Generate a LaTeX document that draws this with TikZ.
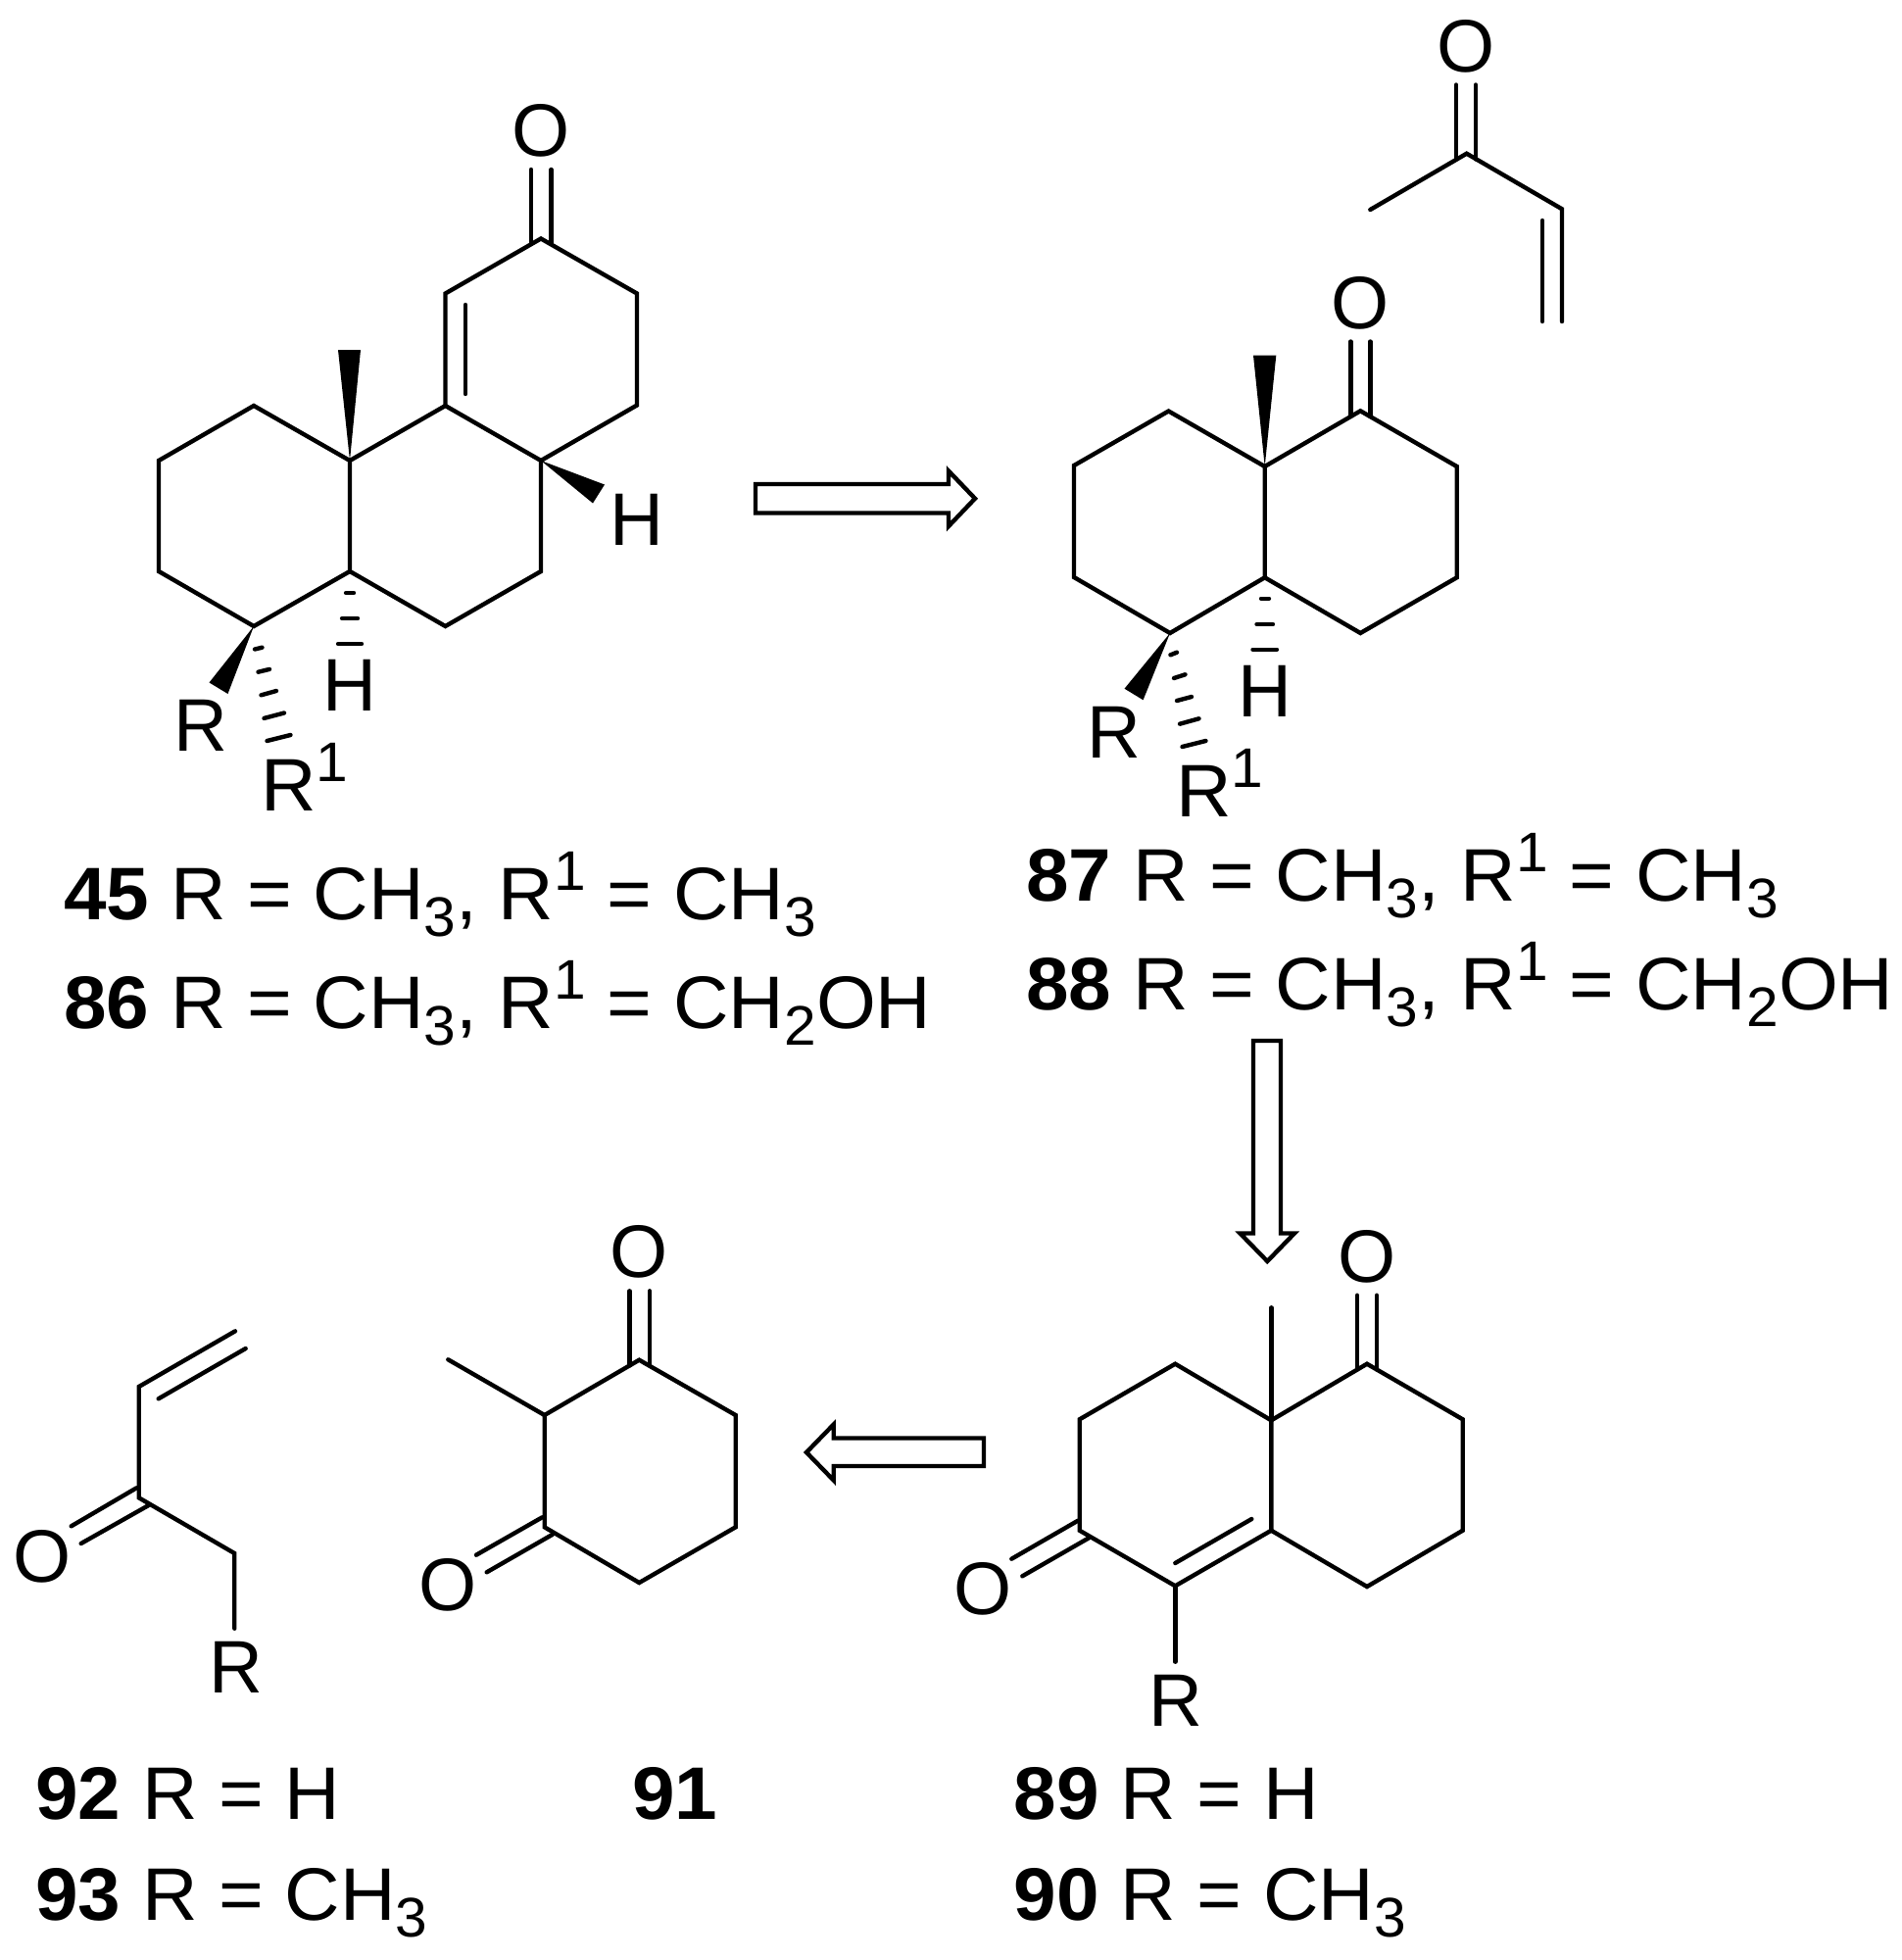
\documentclass[tikz,border=0pt]{standalone}
\usepackage{fontspec}
\setmainfont{Liberation Sans}
\newfontfamily\capfont[FakeStretch=1.03]{Liberation Sans}
\newcommand{\lowsz}{\fontsize{32.4}{36}\selectfont}
\newcommand{\sbs}[1]{\raisebox{-9.8pt}{\lowsz #1}}
\newcommand{\sps}[1]{\raisebox{17pt}{\lowsz #1}}
\tikzset{
	bond/.style={line width=2.5pt,line cap=round,line join=miter},
	hollow/.style={line width=2.5pt,line join=miter,miter limit=6},
	wedge/.style={fill=black,draw=none},
	atom/.style={inner sep=0pt,font=\fontsize{43.25}{50}\selectfont},
	caption/.style={inner sep=0pt,anchor=base west,font=\capfont\fontsize{43.25}{50}\selectfont}
}
\begin{document}
\begin{tikzpicture}[x=0.02cm,y=-0.02cm]
	\useasboundingbox (0,0) rectangle (1940,2000);
	% 45: tetracyclic enone
	\coordinate (a1) at (259,414); \coordinate (a2) at (162,470); \coordinate (a3) at (162,583);
	\coordinate (a4) at (259,639); \coordinate (a5) at (357,583); \coordinate (a6) at (357,470);
	\coordinate (a7) at (454.5,414); \coordinate (a8) at (552,470); \coordinate (a9) at (552,583);
	\coordinate (a10) at (454.5,639); \coordinate (a11) at (454.5,299.5); \coordinate (a12) at (552,243.5);
	\coordinate (a13) at (650,299.5); \coordinate (a14) at (650,413.5);
	\draw[bond] (a1) -- (a2) -- (a3) -- (a4) -- (a5) -- (a6) -- cycle;
	\draw[bond] (a6) -- (a7) -- (a8) -- (a9) -- (a10) -- (a5);
	\draw[bond] (a7) -- (a11) -- (a12) -- (a13) -- (a14) -- (a8);
	\coordinate (a15) at (475,311); \coordinate (a16) at (475,402);
	\draw[bond] (a15) -- (a16);
	\node[atom] (oa) at (552,133.5) {O};
	\coordinate (a17) at (542,173); \coordinate (a18) at (542,249);
	\coordinate (a19) at (562.5,173); \coordinate (a20) at (562.5,249);
	\draw[bond] (a17) -- (a18);
	\draw[bond] (a19) -- (a20);
	\fill[wedge] (345,357) -- (368,357) -- (a6) -- cycle;
	\fill[wedge] (617,494.5) -- (605,513.5) -- (a8) -- cycle;
	\fill[wedge] (213.5,696.5) -- (232.5,708) -- (a4) -- cycle;
	\draw[bond] (353,605) -- (361,605);
	\draw[bond] (349,631) -- (365,631);
	\draw[bond] (345,657) -- (369,657);
	\draw[bond] (260,662.5) -- (267.5,660.7);
	\draw[bond] (263.5,685.7) -- (275,682.9);
	\draw[bond] (266.5,709.3) -- (282,705);
	\draw[bond] (269.5,732.9) -- (290,727.5);
	\draw[bond] (272.5,756) -- (296.5,750);
	\node[atom] (ha1) at (650,530) {H};
	\node[atom] (ha2) at (357,699) {H};
	\node[atom] (ra) at (205,740.5) {R};
	\node[caption] (rb) at (266,827) {R\sps{1}};
	\node[caption] (l45) at (65,938.5) {\textbf{45} R = CH\sbs{3}, R\sps{1} = CH\sbs{3}};
	\node[caption] (l86) at (65,1049.5) {\textbf{86} R = CH\sbs{3}, R\sps{1} = CH\sbs{2}OH};
	% retro arrow 45 to 87
	\draw[hollow] (771,494) -- (968,494) -- (968,480.5) -- (995,508.7) -- (968,537) -- (968,523.5) -- (771,523.5) -- cycle;
	% 87: decalone
	\coordinate (b1) at (1192.5,419.5); \coordinate (b2) at (1096,475); \coordinate (b3) at (1096,589);
	\coordinate (b4) at (1194,646); \coordinate (b5) at (1290.7,589.3); \coordinate (b6) at (1290.7,476);
	\coordinate (b7) at (1388.3,419.3); \coordinate (b8) at (1486.7,476); \coordinate (b9) at (1486.7,589.3);
	\coordinate (b10) at (1388.3,646);
	\draw[bond] (b1) -- (b2) -- (b3) -- (b4) -- (b5) -- (b6) -- cycle;
	\draw[bond] (b6) -- (b7) -- (b8) -- (b9) -- (b10) -- (b5);
	\node[atom] (ob) at (1388,309.3) {O};
	\coordinate (b11) at (1378.3,348.5); \coordinate (b12) at (1378.3,425);
	\coordinate (b13) at (1398.3,348.5); \coordinate (b14) at (1398.3,425);
	\draw[bond] (b11) -- (b12);
	\draw[bond] (b13) -- (b14);
	\fill[wedge] (1279,362.7) -- (1302.3,362.7) -- (b6) -- cycle;
	\fill[wedge] (1147.5,702.7) -- (1166.6,714.3) -- (b4) -- cycle;
	\draw[bond] (1287,610.7) -- (1295,610.7);
	\draw[bond] (1282.5,637) -- (1299,637);
	\draw[bond] (1278.5,662.7) -- (1303,662.7);
	\draw[bond] (1194.5,668.3) -- (1201,665.7);
	\draw[bond] (1198,692) -- (1209.5,688.3);
	\draw[bond] (1201,715) -- (1216,711);
	\draw[bond] (1204,738.7) -- (1223.5,733.3);
	\draw[bond] (1206.5,762) -- (1230.5,756);
	\node[atom] (hb) at (1291,705.5) {H};
	\node[atom] (rc) at (1137,747) {R};
	\node[caption] (rd) at (1200,833) {R\sps{1}};
	\node[caption] (l87) at (1047,919) {\textbf{87} R = CH\sbs{3}, R\sps{1} = CH\sbs{3}};
	\node[caption] (l88) at (1047,1030.5) {\textbf{88} R = CH\sbs{3}, R\sps{1} = CH\sbs{2}OH};
	% methyl vinyl ketone
	\coordinate (c1) at (1398.3,214); \coordinate (c2) at (1496.7,156.7); \coordinate (c3) at (1594,213.3);
	\coordinate (c4) at (1594,328); \coordinate (c5) at (1574,225); \coordinate (c6) at (1574,328);
	\draw[bond] (c1) -- (c2) -- (c3) -- (c4);
	\draw[bond] (c5) -- (c6);
	\node[atom] (oc) at (1496,47) {O};
	\coordinate (c7) at (1486,86.5); \coordinate (c8) at (1486,162.5);
	\coordinate (c9) at (1506,86.5); \coordinate (c10) at (1506,162.5);
	\draw[bond] (c7) -- (c8);
	\draw[bond] (c9) -- (c10);
	% retro arrow 88 to 89
	\draw[hollow] (1279,1062) -- (1307,1062) -- (1307,1258.5) -- (1321,1258.5) -- (1293.3,1287) -- (1265.5,1258.5) -- (1279,1258.5) -- cycle;
	% 89: Wieland-Miescher type
	\coordinate (d1) at (1297.3,1449.3); \coordinate (d2) at (1199.3,1391.7); \coordinate (d3) at (1101.7,1448.3);
	\coordinate (d4) at (1101.7,1561.7); \coordinate (d5) at (1199.3,1618.3); \coordinate (d6) at (1297.3,1561.7);
	\coordinate (d7) at (1395,1391.7); \coordinate (d8) at (1492.7,1448.3); \coordinate (d9) at (1492.7,1561.7);
	\coordinate (d10) at (1395,1619); \coordinate (d11) at (1297.3,1334.3);
	\coordinate (d12) at (1199.3,1595); \coordinate (d13) at (1277.3,1550); \coordinate (d14) at (1199.3,1695.7);
	\draw[bond] (d1) -- (d2) -- (d3) -- (d4) -- (d5) -- (d6) -- cycle;
	\draw[bond] (d1) -- (d7) -- (d8) -- (d9) -- (d10) -- (d6);
	\draw[bond] (d1) -- (d11);
	\draw[bond] (d12) -- (d13);
	\draw[bond] (d5) -- (d14);
	\node[atom] (od1) at (1395,1282.3) {O};
	\coordinate (d15) at (1385,1321.7); \coordinate (d16) at (1385,1397.5);
	\coordinate (d17) at (1405,1321.7); \coordinate (d18) at (1405,1397.5);
	\draw[bond] (d15) -- (d16);
	\draw[bond] (d17) -- (d18);
	\node[atom] (od2) at (1003.3,1621.7) {O};
	\coordinate (d19) at (1032.3,1590.7); \coordinate (d20) at (1100,1551.7);
	\coordinate (d21) at (1043.3,1608.3); \coordinate (d22) at (1111.7,1569);
	\draw[bond] (d19) -- (d20);
	\draw[bond] (d21) -- (d22);
	\node[atom] (re) at (1199.7,1735) {R};
	\node[caption] (l89) at (1034.5,1856) {\textbf{89} R = H};
	\node[caption] (l90) at (1034.5,1959.3) {\textbf{90} R = CH\sbs{3}};
	% retro arrow 89 to 91
	\draw[hollow] (1004,1467.5) -- (850.7,1467.5) -- (850.7,1453.5) -- (823,1482) -- (850.7,1510.5) -- (850.7,1496) -- (1004,1496) -- cycle;
	% 91: dione
	\coordinate (e1) at (555.7,1444); \coordinate (e2) at (652.3,1387.7); \coordinate (e3) at (750.7,1444);
	\coordinate (e4) at (750.7,1558.3); \coordinate (e5) at (652.3,1615); \coordinate (e6) at (555.7,1558.3);
	\coordinate (e7) at (457.3,1387.3);
	\draw[bond] (e1) -- (e2) -- (e3) -- (e4) -- (e5) -- (e6) -- cycle;
	\draw[bond] (e1) -- (e7);
	\node[atom] (oe1) at (652.3,1277.3) {O};
	\coordinate (e8) at (642.3,1317.3); \coordinate (e9) at (642.3,1393.5);
	\coordinate (e10) at (663,1317.3); \coordinate (e11) at (663,1393.5);
	\draw[bond] (e8) -- (e9);
	\draw[bond] (e10) -- (e11);
	\node[atom] (oe2) at (456.7,1617.3) {O};
	\coordinate (e12) at (486,1586.7); \coordinate (e13) at (553.3,1548.3);
	\coordinate (e14) at (496.7,1604.3); \coordinate (e15) at (564,1565.7);
	\draw[bond] (e12) -- (e13);
	\draw[bond] (e14) -- (e15);
	\node[caption] (l91) at (645,1856) {\textbf{91}};
	% 92: enone
	\coordinate (f1) at (240,1358.3); \coordinate (f2) at (141.7,1415); \coordinate (f3) at (141.7,1528.3);
	\coordinate (f4) at (239.3,1585); \coordinate (f5) at (239.3,1661.7);
	\coordinate (f6) at (161.7,1427.3); \coordinate (f7) at (250.7,1376);
	\draw[bond] (f1) -- (f2) -- (f3) -- (f4) -- (f5);
	\draw[bond] (f6) -- (f7);
	\node[atom] (of) at (43.3,1588.3) {O};
	\coordinate (f8) at (72.7,1557.3); \coordinate (f9) at (139.3,1518.3);
	\coordinate (f10) at (82.7,1575); \coordinate (f11) at (151.7,1536);
	\draw[bond] (f8) -- (f9);
	\draw[bond] (f10) -- (f11);
	\node[atom] (rf) at (241,1701.6) {R};
	\node[caption] (l92) at (36,1856) {\textbf{92} R = H};
	\node[caption] (l93) at (36,1959.3) {\textbf{93} R = CH\sbs{3}};
\end{tikzpicture}
\end{document}
